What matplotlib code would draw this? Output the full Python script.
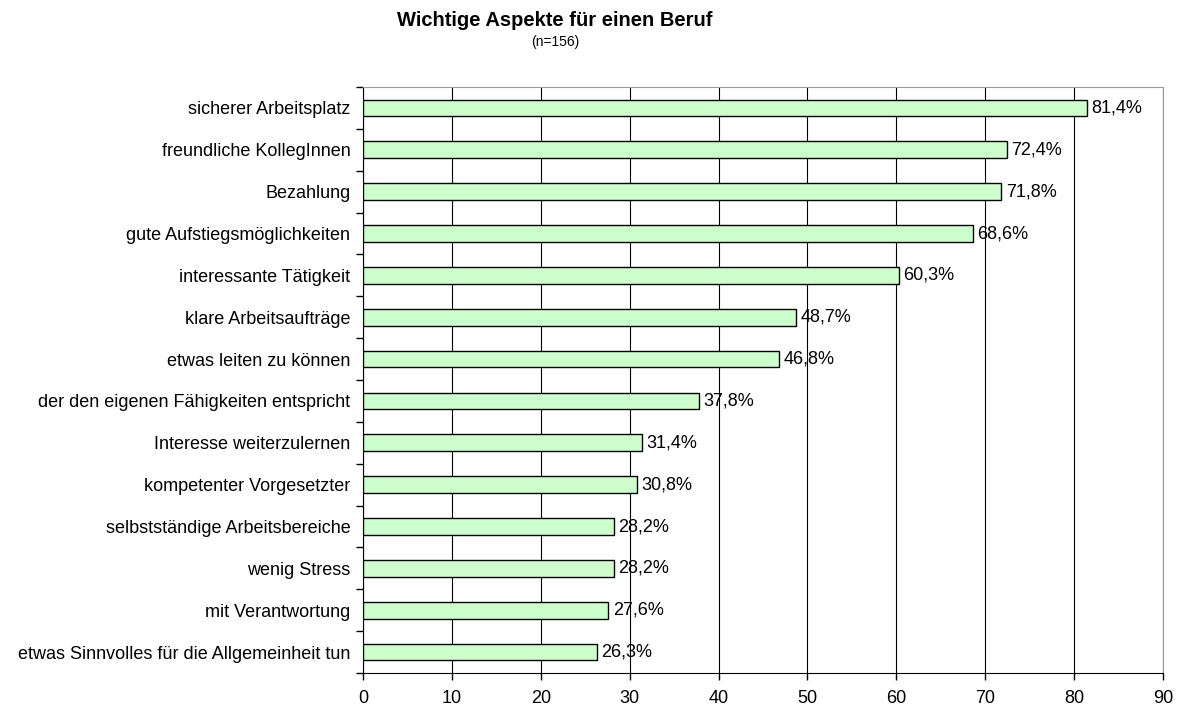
import matplotlib.pyplot as plt
import numpy as np

plt.rcParams["font.family"] = ["Liberation Sans", "DejaVu Sans"]

CATEGORIES = [
    "sicherer Arbeitsplatz",
    "freundliche KollegInnen",
    "Bezahlung",
    "gute Aufstiegsmöglichkeiten",
    "interessante Tätigkeit",
    "klare Arbeitsaufträge",
    "etwas leiten zu können",
    "der den eigenen Fähigkeiten entspricht",
    "Interesse weiterzulernen",
    "kompetenter Vorgesetzter",
    "selbstständige Arbeitsbereiche",
    "wenig Stress",
    "mit Verantwortung",
    "etwas Sinnvolles für die Allgemeinheit tun",
]
VALUES = [81.4, 72.4, 71.8, 68.6, 60.3, 48.7, 46.8, 37.8, 31.4, 30.8, 28.2, 28.2, 27.6, 26.3]
X_TICKS = list(range(0, 91, 10))

fig = plt.figure(figsize=(11.83, 7.08), dpi=100)
ax = fig.add_axes([0.3068, 0.0494, 0.6763, 0.8277])

y = np.arange(len(CATEGORIES))
ax.barh(y, VALUES, height=0.4, color="#ccffcc", edgecolor="black", linewidth=1.0, zorder=3)
for yi, v in zip(y, VALUES):
    ax.text(v + 0.5, yi, f"{v:.1f}%".replace(".", ","), va="center", ha="left",
            fontsize=13, zorder=4)

ax.set_xlim(0, 90)
ax.set_ylim(len(CATEGORIES) - 0.5, -0.5)
ax.set_xticks(X_TICKS)
ax.set_xticklabels([str(t) for t in X_TICKS], fontsize=13)
ax.set_yticks(y)
ax.set_yticklabels(CATEGORIES, fontsize=13)
ax.tick_params(axis="y", length=0, pad=9)
ax.set_yticks(np.arange(-0.5, len(CATEGORIES)), minor=True)
ax.tick_params(axis="y", which="minor", length=5, width=1, direction="out")
ax.tick_params(axis="x", length=5, width=1, direction="out", pad=7)
ax.xaxis.grid(True, color="black", linewidth=0.8, zorder=0)
ax.set_axisbelow(True)

ax.spines["left"].set_color("black")
ax.spines["bottom"].set_color("black")
ax.spines["top"].set_color("#999999")
ax.spines["right"].set_color("#999999")

fig.text(0.469, 0.971, "Wichtige Aspekte für einen Beruf", ha="center", va="center",
         fontsize=14.5, fontweight="bold")
fig.text(0.469, 0.941, "(n=156)", ha="center", va="center", fontsize=10)

fig.savefig("out.png", dpi=100)
